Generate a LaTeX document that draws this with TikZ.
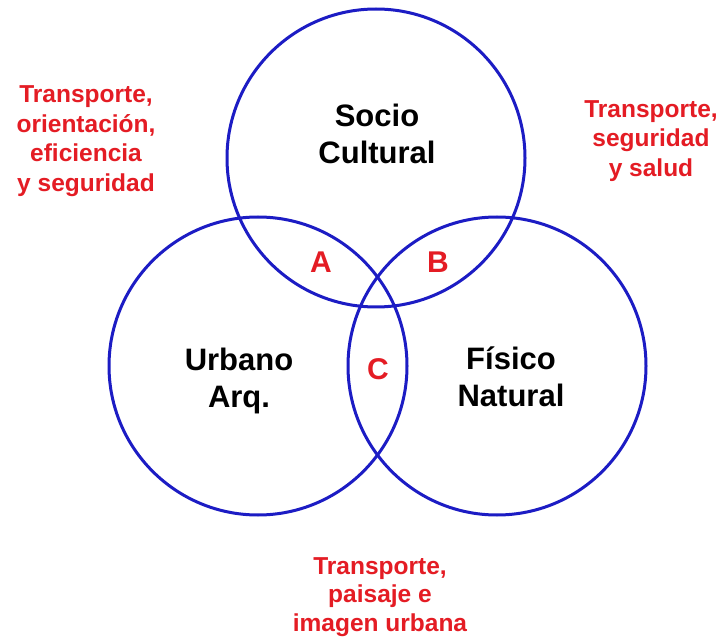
\documentclass[tikz,border=0pt]{standalone}
\usepackage{fontspec}
\setmainfont{Liberation Sans}
\definecolor{vennblue}{RGB}{28,28,196}
\definecolor{vennred}{RGB}{228,28,36}
\begin{document}
\begin{tikzpicture}[x=1pt,y=-1pt,
  ring/.style={draw=vennblue,line width=3pt},
  mainlabel/.style={font=\fontsize{31}{37}\selectfont\bfseries,text=black,align=center,inner sep=0pt},
  letterlabel/.style={font=\fontsize{30}{36}\selectfont\bfseries,text=vennred,inner sep=0pt},
  notelabel/.style={font=\fontsize{24.5}{29.5}\selectfont\bfseries,text=vennred,align=center,inner sep=0pt}]
\useasboundingbox[fill=white] (0,0) rectangle (721,639);
\node[ring,circle,minimum size=298pt,inner sep=0pt] (top) at (376,158) {};
\node[ring,circle,minimum size=298pt,inner sep=0pt] (left) at (258,366) {};
\node[ring,circle,minimum size=298pt,inner sep=0pt] (right) at (497,366) {};
\node[mainlabel] (socio) at (377,134) {Socio\\Cultural};
\node[mainlabel] (urbano) at (239,381) {Urbano\\Arq.};
\node[mainlabel] (fisico) at (511,377) {Físico\\Natural};
\node[letterlabel] (a) at (321,262) {A};
\node[letterlabel] (b) at (438,262) {B};
\node[letterlabel] (c) at (378,369) {C};
\node[notelabel] (n1) at (86,141) {Transporte,\\orientación,\\eficiencia\\y seguridad};
\node[notelabel] (n2) at (651,141) {Transporte,\\seguridad\\y salud};
\node[notelabel,font=\fontsize{24.5}{28.5}\selectfont\bfseries] (n3) at (380,597) {Transporte,\\paisaje e\\imagen urbana};
\end{tikzpicture}
\end{document}
